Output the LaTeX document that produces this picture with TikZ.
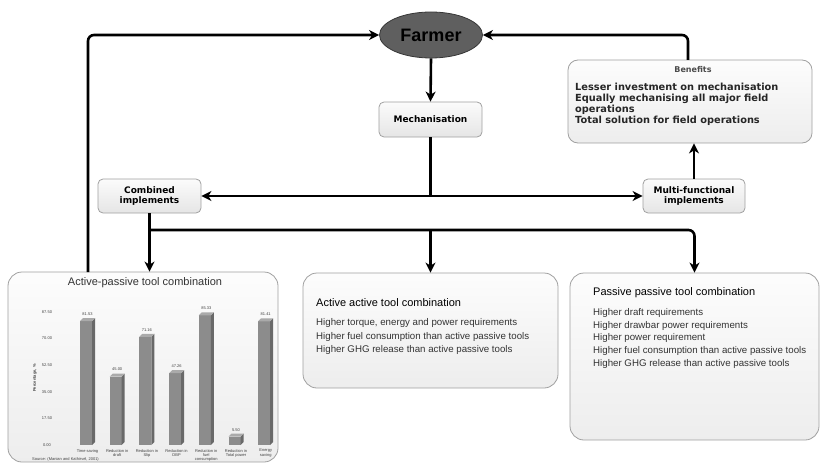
\documentclass[tikz,border=0pt]{standalone}
\usepackage{fontspec}
\setmainfont{Liberation Sans}
\newfontfamily\dvs{DejaVu Sans}
\usetikzlibrary{arrows.meta,shapes.geometric}
\definecolor{farmerfill}{RGB}{95,95,95}
\definecolor{farmerline}{RGB}{55,55,55}
\definecolor{boxline}{RGB}{160,160,160}
\definecolor{barfront}{RGB}{140,140,140}
\definecolor{barside}{RGB}{105,105,105}
\definecolor{bartop}{RGB}{170,170,170}
\begin{document}
\begin{tikzpicture}[x=1pt,y=-1pt,
  arr/.style={line width=2.6pt,-{Stealth[length=10pt,width=10pt,inset=3pt]}},
  arrboth/.style={line width=2.6pt,{Stealth[length=10pt,width=10pt,inset=3pt]}-{Stealth[length=10pt,width=10pt,inset=3pt]}},
  conn/.style={line width=2.6pt},
  smallbox/.style={draw=boxline,line width=0.8pt,rounded corners=5pt,top color=gray!3,bottom color=gray!20,align=center,font=\dvs\bfseries\fontsize{9}{10.5}\selectfont,inner sep=0pt,minimum width=103pt,minimum height=34pt},
  bigbox/.style={draw=boxline,line width=0.8pt,rounded corners=14pt,top color=gray!2,bottom color=gray!14,inner sep=0pt},
  boxtitle/.style={anchor=west,inner sep=0pt,font=\fontsize{11}{12}\selectfont},
  boxline/.style={anchor=west,inner sep=0pt,font=\fontsize{9.7}{11}\selectfont,text=black!80},
  tiny/.style={inner sep=0pt,font=\fontsize{4}{4.4}\selectfont,text=black!75,align=center}
]
\useasboundingbox (0,0) rectangle (821,468);

% nodes
\node[ellipse,draw=farmerline,line width=0.8pt,fill=farmerfill,minimum width=103pt,minimum height=46pt,inner sep=0pt,font=\bfseries\fontsize{18}{20}\selectfont] (farmer) at (431,35) {Farmer};
\node[smallbox,minimum height=35pt] (mech) at (430.5,119.5) {Mechanisation};
\node[smallbox] (comb) at (149.5,196) {Combined\\implements};
\node[smallbox,minimum width=102pt] (multi) at (694,196) {Multi-functional\\implements};

\node[bigbox,rounded corners=10pt,minimum width=244pt,minimum height=83pt] (ben) at (690,101.5) {};
\node[inner sep=0pt,font=\dvs\bfseries\fontsize{8}{9}\selectfont,text=black!70] (bentitle) at (693,70) {Benefits};
\node[anchor=north west,inner sep=0pt,align=left,font=\dvs\bfseries\fontsize{9.8}{11}\selectfont,text=black!85] (bentext) at (575,83) {Lesser investment on mechanisation\\Equally mechanising all major field\\operations\\Total solution for field operations};

\node[bigbox,minimum width=270pt,minimum height=190pt] (ap) at (143,367) {};
\node[bigbox,minimum width=255pt,minimum height=115pt] (aa) at (430.5,330.5) {};
\node[bigbox,minimum width=249pt,minimum height=167pt] (pp) at (694.5,356.5) {};

% active active text
\node[boxtitle] (aat) at (316,303) {Active active tool combination};
\node[boxline] (aa1) at (316,323) {Higher torque, energy and power requirements};
\node[boxline] (aa2) at (316,336.5) {Higher fuel consumption than active passive tools};
\node[boxline] (aa3) at (316,350) {Higher GHG release than active passive tools};

% passive passive text
\node[boxtitle] (ppt) at (593,293) {Passive passive tool combination};
\node[boxline] (pp1) at (593,313) {Higher draft requirements};
\node[boxline] (pp2) at (593,325.5) {Higher drawbar power requirements};
\node[boxline] (pp3) at (593,338) {Higher power requirement};
\node[boxline] (pp4) at (593,351) {Higher fuel consumption than active passive tools};
\node[boxline] (pp5) at (593,364) {Higher GHG release than active passive tools};

% active passive chart
\node[inner sep=0pt,font=\fontsize{11}{12}\selectfont,text=black!80] (apt) at (145,283) {Active-passive tool combination};
\foreach \t [count=\k from 0] in {0.00,17.50,35.00,52.50,70.00,87.50}{
  \node[tiny] (yl\k) at (47,445-\k*26.6) {\t};
}
\node[tiny,rotate=90,font=\bfseries\fontsize{4}{4.4}\selectfont] (ytitle) at (35,378) {Percentage, \%};
\foreach \v/\lab [count=\i] in {81.53/{Time saving},45.00/{Reduction in\\draft},71.16/{Reduction in\\Slip},47.26/{Reduction in\\DBP},85.33/{Reduction in\\fuel\\consumption},5.50/{Reduction in\\Total power},81.41/{Energy\\saving}}{
  \pgfmathsetmacro{\c}{86+(\i-1)*29.7}
  \pgfmathsetmacro{\tp}{445-\v*1.52}
  \fill[barfront] (\c-6,445) rectangle (\c+6,\tp);
  \fill[barside] (\c+6,445) -- (\c+9,442) -- (\c+9,\tp-3) -- (\c+6,\tp) -- cycle;
  \fill[bartop] (\c-6,\tp) -- (\c-3,\tp-3) -- (\c+9,\tp-3) -- (\c+6,\tp) -- cycle;
  \node[tiny] (bv\i) at (\c+1.5,\tp-7) {\v};
  \node[tiny,anchor=north] (bl\i) at (\c+1.5,449) {\lab};
}
\node[tiny,anchor=west] (src) at (32,459) {Source: (Manian and Kathirvel, 2001)};

% connectors
\coordinate (lx) at (88,272);
\coordinate (rx) at (688,60);
\draw[arr,rounded corners=6pt] (lx) |- (farmer.west);
\draw[arr,rounded corners=6pt] (rx) |- (farmer.east);
\draw[arr] (farmer.south) -- (mech.north);
\draw[conn] (mech.south) -- (mech.south |- comb.east);
\draw[arrboth] (comb.east) -- (multi.west);
\draw[arr] (multi.north) -- (multi.north |- ben.south);
\coordinate (b1) at (150,230);
\draw[arr] (comb.south) -- (comb.south |- ap.north);
\draw[arr,rounded corners=6pt] (b1) -| (pp.north);
\draw[arr] (b1 -| aa.north) -- (aa.north);
\end{tikzpicture}
\end{document}
